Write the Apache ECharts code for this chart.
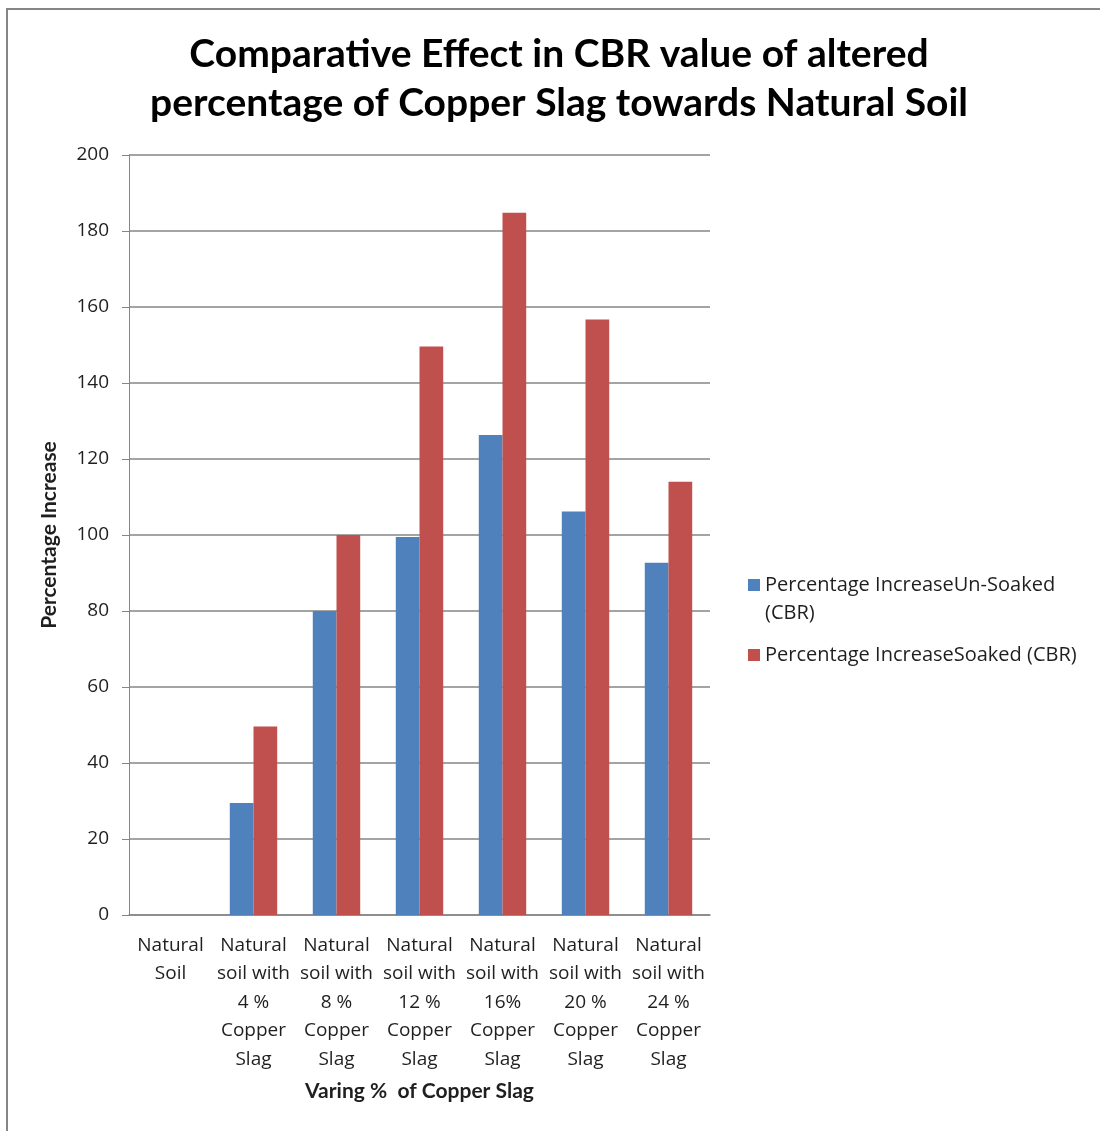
<!DOCTYPE html>
<html>
<head>
<meta charset="utf-8">
<script src="https://cdn.jsdelivr.net/npm/echarts@6/dist/echarts.min.js"></script>
<style>
  html, body { margin: 0; padding: 0; background: #ffffff; }
  #chart { width: 1100px; height: 1131px; }
</style>
</head>
<body>
<div id="chart"></div>
<script>
// Mix categories (x axis)
const categories = [
  'Natural\nSoil',
  'Natural\nsoil with\n4 %\nCopper\nSlag',
  'Natural\nsoil with\n8 %\nCopper\nSlag',
  'Natural\nsoil with\n12 %\nCopper\nSlag',
  'Natural\nsoil with\n16%\nCopper\nSlag',
  'Natural\nsoil with\n20 %\nCopper\nSlag',
  'Natural\nsoil with\n24 %\nCopper\nSlag'
];

// Percentage increase of CBR relative to natural soil
const unSoakedValues = [0, 29.5, 80, 99.5, 126.3, 106.2, 92.7];
const soakedValues = [0, 49.6, 100, 149.6, 184.8, 156.7, 114];

const seriesNames = ['Percentage IncreaseUn-Soaked (CBR)', 'Percentage IncreaseSoaked (CBR)'];

// Value axis ticks
const yMin = 0;
const yMax = 200;
const yStep = 20;

const chart = echarts.init(document.getElementById('chart'), null, { renderer: 'canvas' });

const gridColor = '#868686';
const textColor = '#1f1f1f';
const regularFont = '"Open Sans", "Noto Sans", sans-serif';
const boldFont = 'Lato, "Open Sans", sans-serif';

chart.setOption({
  backgroundColor: '#ffffff',
  animation: false,
  title: {
    text: 'Comparative Effect in CBR value of altered\npercentage of Copper Slag towards Natural Soil',
    left: 554,
    top: 25,
    textAlign: 'center',
    textStyle: {
      fontFamily: boldFont,
      fontWeight: 'bold',
      fontSize: 39,
      lineHeight: 49,
      color: '#000000'
    }
  },
  graphic: [{
    // outer chart frame (top and left edges visible)
    type: 'rect',
    shape: { x: 7, y: 9, width: 1300, height: 1300 },
    style: { fill: 'none', stroke: gridColor, lineWidth: 2 },
    silent: true
  }],
  legend: {
    orient: 'vertical',
    left: 743,
    top: 538,
    itemWidth: 12,
    itemHeight: 12,
    itemGap: 14,
    icon: 'rect',
    data: seriesNames,
    formatter: function (name) {
      if (name === seriesNames[0]) {
        return '\nPercentage IncreaseUn-Soaked\n(CBR)';
      }
      return name;
    },
    textStyle: {
      fontFamily: regularFont,
      fontSize: 20,
      lineHeight: 28,
      color: textColor
    }
  },
  grid: {
    left: 129,
    right: 390,
    top: 155,
    bottom: 216,
    containLabel: false
  },
  xAxis: {
    type: 'category',
    data: categories,
    name: 'Varing %  of Copper Slag',
    nameLocation: 'middle',
    nameGap: 166,
    nameTextStyle: {
      fontFamily: boldFont,
      fontWeight: 'bold',
      fontSize: 21,
      color: textColor
    },
    axisLine: { lineStyle: { color: gridColor, width: 1.5 } },
    axisTick: { show: false },
    axisLabel: {
      interval: 0,
      margin: 16,
      fontFamily: regularFont,
      fontSize: 19,
      lineHeight: 28.5,
      color: textColor
    }
  },
  yAxis: {
    type: 'value',
    min: yMin,
    max: yMax,
    interval: yStep,
    name: 'Percentage Increase',
    nameLocation: 'middle',
    nameRotate: 90,
    nameGap: 69,
    nameTextStyle: {
      fontFamily: boldFont,
      fontWeight: 'bold',
      fontSize: 21,
      color: textColor
    },
    axisLine: { show: true, lineStyle: { color: gridColor, width: 1 } },
    axisTick: { show: true, length: 7, lineStyle: { color: gridColor } },
    axisLabel: {
      margin: 20,
      fontFamily: regularFont,
      fontSize: 19,
      color: textColor
    },
    splitLine: { lineStyle: { color: gridColor, width: 1.5 } }
  },
  series: [
    {
      name: seriesNames[0],
      type: 'bar',
      data: unSoakedValues,
      barGap: '0%',
      barCategoryGap: '42.86%',
      itemStyle: { color: '#4F81BD' }
    },
    {
      name: seriesNames[1],
      type: 'bar',
      data: soakedValues,
      barGap: '0%',
      barCategoryGap: '42.86%',
      itemStyle: { color: '#C0504D' }
    }
  ]
});
</script>
</body>
</html>
